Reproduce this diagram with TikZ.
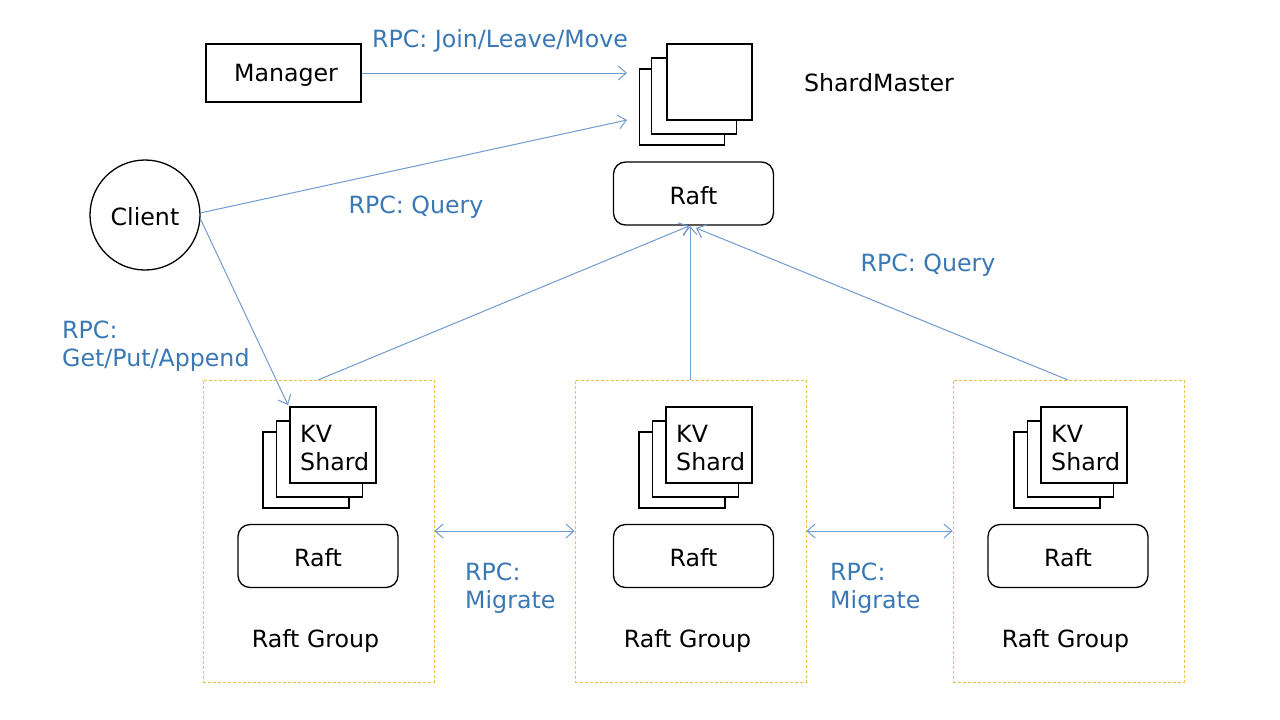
\documentclass[tikz,border=0pt]{standalone}
\usepackage{fontspec}
\setmainfont{DejaVu Sans}
\usetikzlibrary{arrows.meta}
\definecolor{rpcblue}{HTML}{3A78B5}
\definecolor{lineblue}{HTML}{6F9BD1}
\definecolor{grpyellow}{HTML}{EDC14A}
\tikzset{
  txt/.style={font=\fontsize{23.7}{28.5}\selectfont, inner sep=0pt},
  lbl/.style={txt, text=rpcblue, align=left},
  sq/.style={draw=black, line width=1.3pt, fill=white, minimum width=86pt, minimum height=76pt, inner sep=0pt},
  raftbox/.style={draw=black, line width=1.3pt, rounded corners=12pt, minimum width=160pt, minimum height=63pt, inner sep=0pt, txt},
  grp/.style={draw=grpyellow, line width=0.8pt, dash pattern=on 3pt off 2pt, minimum width=231pt, minimum height=302pt, inner sep=0pt},
  conn/.style={draw=lineblue, line width=1pt, -{Straight Barb[length=8pt,width=14pt,line width=1pt]}},
  biconn/.style={draw=lineblue, line width=1pt, {Straight Barb[length=8pt,width=14pt,line width=1pt]}-{Straight Barb[length=8pt,width=14pt,line width=1pt]}},
}
\begin{document}
\begin{tikzpicture}[x=1pt,y=-1pt]
\useasboundingbox (0,0) rectangle (1280,720);
% Manager
\node[draw, line width=1.3pt, minimum width=155pt, minimum height=58pt, inner sep=0pt] (manager) at (283.5,73) {};
\node[txt] (managert) at (286,75) {Manager};
% ShardMaster stack
\node[sq, minimum width=85pt] (sm3) at (682,107) {};
\node[sq, minimum width=85pt] (sm2) at (694,96) {};
\node[sq, minimum width=85pt] (sm1) at (709.5,82) {};
\node[txt] (smlabel) at (879,83) {ShardMaster};
\node[raftbox] (smraft) at (693.5,193.5) {};
\node[txt] (smrafttxt) at (693.5,195.5) {Raft};
% Client
\node[draw, circle, line width=1.3pt, minimum size=110pt, inner sep=0pt] (client) at (145,215) {};
\node[txt] (clientt) at (145,217) {Client};
% Groups
\foreach \i/\gx/\fx/\rx in {1/318.5/333/318,2/690.5/709/693.5,3/1068.5/1084/1068} {
  \node[grp] (g\i) at (\gx,531) {};
  \node[sq] (k\i c) at ({\fx-27},470) {};
  \node[sq] (k\i b) at ({\fx-13.5},459) {};
  \node[sq] (k\i a) at (\fx,445) {};
  \node[txt, align=left, anchor=north west] (k\i t) at ({\fx-33},425) {KV\\Shard};
  \node[raftbox] (r\i) at (\rx,556) {};
  \node[txt] (r\i t) at (\rx,558) {Raft};
  \node[txt] (gl\i) at ({\gx-3},641) {Raft Group};
}
% coordinates for connectors
\coordinate (smin1) at (627,73);
\coordinate (smin2) at (627,120);
\coordinate (cl1) at (200,213);
\coordinate (cl2) at (200,218);
\coordinate (kin) at (288,405);
\coordinate (g1top) at (318,380);
\coordinate (g2top) at (690,380);
\coordinate (g3top) at (1068,380);
\coordinate (rt1) at (689,226);
\coordinate (rt2) at (690,226);
\coordinate (rt3) at (696,228);
% connectors
\draw[conn] (manager.east) -- (smin1);
\draw[conn] (cl1) -- (smin2);
\draw[conn] (cl2) -- (kin);
\draw[conn] (g1top) -- (rt1);
\draw[conn] (g2top) -- (rt2);
\draw[conn] (g3top) -- (rt3);
\draw[biconn] (g1.east |- 0,531) -- (g2.west |- 0,531);
\draw[biconn] (g2.east |- 0,531) -- (g3.west |- 0,531);
% labels
\node[lbl] (l1) at (500,41) {RPC: Join/Leave/Move};
\node[lbl] (l2) at (416,207) {RPC: Query};
\node[lbl, anchor=west] (l3) at (62,346) {RPC:\\Get/Put/Append};
\node[lbl, anchor=west] (l4) at (465,588) {RPC:\\Migrate};
\node[lbl, anchor=west] (l5) at (830,588) {RPC:\\Migrate};
\node[lbl] (l6) at (928,265) {RPC: Query};
\end{tikzpicture}
\end{document}
